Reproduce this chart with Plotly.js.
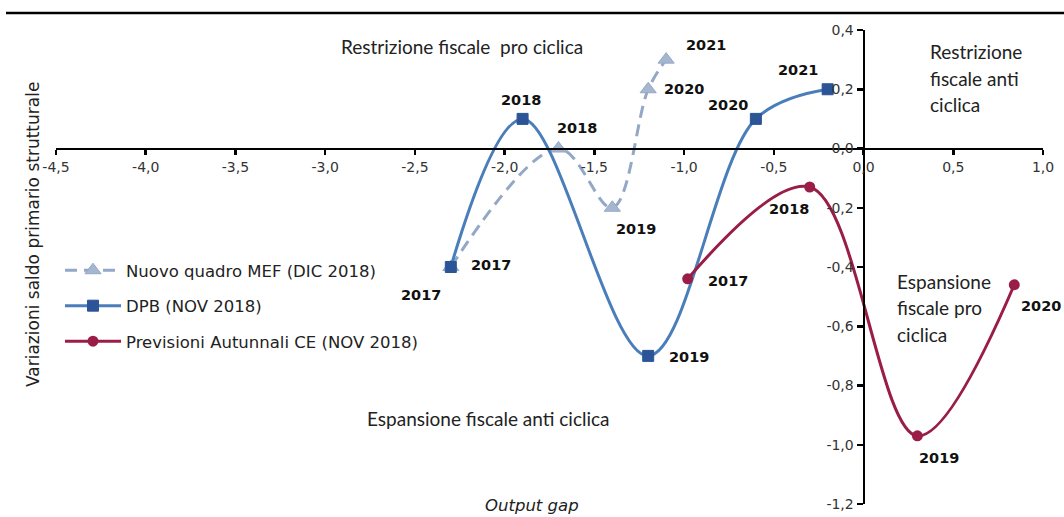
<!DOCTYPE html>
<html>
<head>
<meta charset="utf-8">
<script src="https://cdn.plot.ly/plotly-3.0.1.min.js"></script>
<style>
html,body{margin:0;padding:0;background:#fff;}
#chart{width:1064px;height:517px;}
</style>
</head>
<body>
<div id="chart"></div>
<script>
// ---- data ----
const years = ["2017", "2018", "2019", "2020", "2021"];
const mefName = "Nuovo quadro MEF (DIC 2018)";
const mefX = [-2.3, -1.7, -1.4, -1.2, -1.1];
const mefY = [-0.4, 0.0, -0.2, 0.2, 0.3];
const dpbName = "DPB (NOV 2018)";
const dpbX = [-2.3, -1.9, -1.2, -0.6, -0.2];
const dpbY = [-0.4, 0.1, -0.7, 0.1, 0.2];
const ceName = "Previsioni Autunnali CE (NOV 2018)";
const ceYears = ["2017", "2018", "2019", "2020"];
const ceX = [-0.98, -0.3, 0.3, 0.84];
const ceY = [-0.44, -0.13, -0.97, -0.46];
const xTicks = [-4.5, -4.0, -3.5, -3.0, -2.5, -2.0, -1.5, -1.0, -0.5, 0.0, 0.5, 1.0];
const yTicks = [0.4, 0.2, 0.0, -0.2, -0.4, -0.6, -0.8, -1.0, -1.2];
const xTitle = "Output gap";
const yTitle = "Variazioni saldo primario strutturale";
const topLeftText = "Restrizione fiscale  pro ciclica";
const topRightLines = ["Restrizione", "fiscale anti", "ciclica"];
const bottomRightLines = ["Espansione", "fiscale pro", "ciclica"];
const bottomLeftText = "Espansione fiscale anti ciclica";

function fmt(v) { return v.toFixed(1).replace(".", ","); }

// ---- layout geometry helpers (pixels -> paper) ----
const L = 56, R = 1043, T = 30, B = 504;
const px = x => (x - L) / (R - L);
const py = y => 1 - (y - T) / (B - T);

// label offsets (pixels)
const mefOff = [[-30, 28], [19, -21], [24, 21], [36, 0], [40, -15]];
const dpbOff = [[40, -2], [-2, -19], [41, 1], [-28, -14], [-30, -19]];
const ceOff = [[40, 2], [-21, 22], [22, 22], [27, 21]];

const labelFont = {family: "DejaVu Sans", size: 14.5, color: "#111"};

function labels(xs, ys, txt, off) {
  return xs.map((x, i) => ({
    x: x, y: ys[i], xref: "x", yref: "y",
    text: "<b>" + txt[i] + "</b>", showarrow: false,
    xanchor: "center", yanchor: "middle",
    xshift: off[i][0], yshift: -off[i][1],
    font: labelFont
  }));
}

const traces = [
  {
    x: mefX, y: mefY, name: mefName, type: "scatter", mode: "lines+markers",
    legendgroup: "a",
    line: {color: "#93A8C7", width: 3, dash: "12px,7px", shape: "spline", smoothing: 1},
    marker: {symbol: "triangle-up", size: 14, color: "#A7B6CF", line: {color: "#93A8C7", width: 1}}
  },
  {
    x: dpbX, y: dpbY, name: dpbName, type: "scatter", mode: "lines+markers",
    legendgroup: "b",
    line: {color: "#4A7EBB", width: 3, shape: "spline", smoothing: 1},
    marker: {symbol: "square", size: 11, color: "#2B5597", line: {color: "#2B5597", width: 1}}
  },
  {
    x: ceX, y: ceY, name: ceName, type: "scatter", mode: "lines+markers",
    legendgroup: "c",
    line: {color: "#9A1D48", width: 3, shape: "spline", smoothing: 1},
    marker: {symbol: "circle", size: 11, color: "#9A1D48"}
  }
];

const axisFont = {family: "DejaVu Sans", size: 14, color: "#333"};
const annoFont = {family: "Lato", size: 19, color: "#222"};

function lineAnnos(lines, xLeft, yFirst, step) {
  return lines.map((t, i) => ({
    x: px(xLeft), y: py(yFirst + i * step), xref: "paper", yref: "paper",
    text: t, showarrow: false, xanchor: "left", yanchor: "middle", font: annoFont
  }));
}

const annotations = []
  .concat(labels(mefX, mefY, years, mefOff))
  .concat(labels(dpbX, dpbY, years, dpbOff))
  .concat(labels(ceX, ceY, ceYears, ceOff))
  .concat(lineAnnos(topRightLines, 928, 51, 27))
  .concat(lineAnnos(bottomRightLines, 895, 281, 26.5))
  .concat([
    {x: px(462), y: py(46), xref: "paper", yref: "paper", xanchor: "center", yanchor: "middle",
     text: topLeftText, showarrow: false, font: annoFont},
    {x: px(488), y: py(418), xref: "paper", yref: "paper", xanchor: "center", yanchor: "middle",
     text: bottomLeftText, showarrow: false, font: annoFont},
    {x: px(532), y: py(505), xref: "paper", yref: "paper", xanchor: "center", yanchor: "middle",
     text: "<i>" + xTitle + "</i>", showarrow: false,
     font: {family: "DejaVu Sans", size: 16.5, color: "#222"}},
    {x: px(33), y: py(235), xref: "paper", yref: "paper", xanchor: "center", yanchor: "middle",
     text: yTitle, textangle: -90, showarrow: false,
     font: {family: "DejaVu Sans", size: 17, color: "#222"}}
  ]);

const layout = {
  width: 1064, height: 517,
  margin: {l: L, r: 1064 - R, t: T, b: 517 - B, pad: 0},
  paper_bgcolor: "#fff", plot_bgcolor: "#fff",
  showlegend: true,
  legend: {
    x: px(60), y: py(253), xanchor: "left", yanchor: "top",
    font: {family: "DejaVu Sans", size: 16.5, color: "#222"},
    tracegroupgap: 11, traceorder: "grouped",
    bgcolor: "rgba(0,0,0,0)", itemwidth: 56
  },
  xaxis: {
    range: [-4.5, 1.0], tickvals: xTicks, ticktext: xTicks.map(fmt),
    showgrid: false, zeroline: false,
    showline: true, linecolor: "#000", linewidth: 2.5,
    ticks: "outside", ticklen: 5, tickwidth: 2.5, tickcolor: "#000",
    anchor: "free", position: 0.75,
    tickfont: axisFont
  },
  yaxis: {
    range: [-1.2, 0.4], tickvals: yTicks, ticktext: yTicks.map(fmt),
    showgrid: false, zeroline: false,
    showline: true, linecolor: "#000", linewidth: 2.5,
    ticks: "outside", ticklen: 6, tickwidth: 2.5, tickcolor: "#000",
    anchor: "free", position: 4.5 / 5.5,
    tickfont: axisFont
  },
  shapes: [
    {type: "line", xref: "paper", yref: "paper", x0: px(6), x1: px(1070), y0: py(13), y1: py(13),
     line: {color: "#000", width: 2.5}}
  ],
  annotations: annotations
};

Plotly.newPlot("chart", traces, layout, {staticPlot: true, displayModeBar: false});
</script>
</body>
</html>
